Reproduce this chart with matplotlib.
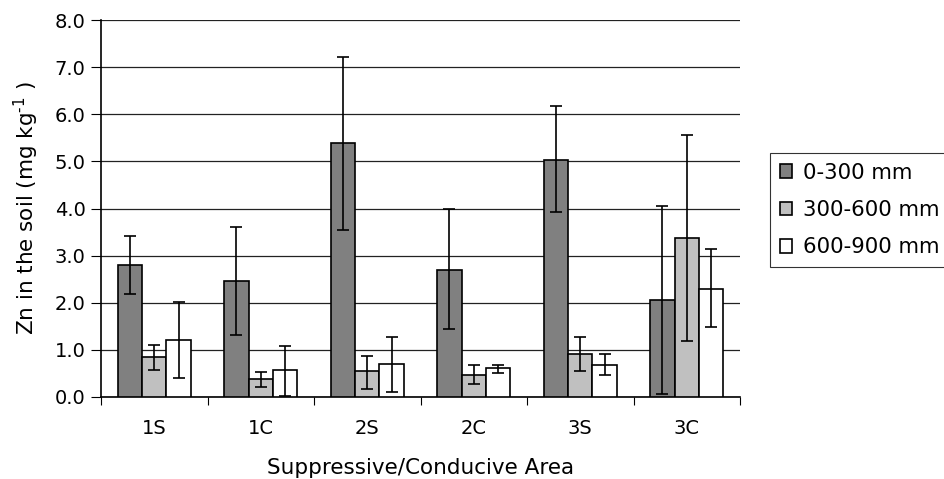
import numpy as np
import matplotlib
matplotlib.use('Agg')
import matplotlib.pyplot as plt

plt.rcParams['font.family'] = ['DejaVu Sans']

# Data
areas = ['1S', '1C', '2S', '2C', '3S', '3C']
depths = ['0-300 mm', '300-600 mm', '600-900 mm']
colors = ['#808080', '#c0c0c0', '#ffffff']

zn_0_300 = [2.80, 2.46, 5.40, 2.70, 5.03, 2.06]
zn_300_600 = [0.85, 0.38, 0.55, 0.47, 0.91, 3.38]
zn_600_900 = [1.22, 0.58, 0.71, 0.61, 0.67, 2.30]

# error bar ends (low, high)
low_0_300 = [2.19, 1.32, 3.55, 1.45, 3.92, 0.06]
high_0_300 = [3.41, 3.61, 7.22, 3.99, 6.17, 4.05]
low_300_600 = [0.58, 0.21, 0.18, 0.28, 0.55, 1.18]
high_300_600 = [1.11, 0.54, 0.87, 0.67, 1.28, 5.57]
low_600_900 = [0.40, 0.03, 0.11, 0.51, 0.47, 1.49]
high_600_900 = [2.02, 1.08, 1.27, 0.67, 0.91, 3.14]

values = [zn_0_300, zn_300_600, zn_600_900]
lows = [low_0_300, low_300_600, low_600_900]
highs = [high_0_300, high_300_600, high_600_900]

fig = plt.figure(figsize=(9.45, 4.79), dpi=100)
ax = fig.add_axes([101 / 945, 1 - 397 / 479, (740 - 101) / 945, (397 - 20) / 479])

x = np.arange(len(areas))
width = 0.228
for i in range(3):
    v = np.array(values[i])
    yerr = [v - np.array(lows[i]), np.array(highs[i]) - v]
    ax.bar(x + (i - 1) * width, v, width, color=colors[i], edgecolor='black',
           linewidth=1.2, label=depths[i], zorder=3)
    ax.errorbar(x + (i - 1) * width, v, yerr=yerr, fmt='none', ecolor='black',
                elinewidth=1.2, capsize=4.3, capthick=1.2, zorder=4)

ax.set_xlim(-0.5, len(areas) - 0.5)
ax.set_ylim(0, 8)
yt = np.arange(0, 8.1, 1.0)
ax.set_yticks(yt)
ax.set_yticklabels(['%.1f' % t for t in yt], fontsize=14)
ax.yaxis.grid(True, color='#222222', linewidth=0.9, zorder=0)
ax.set_axisbelow(True)

# category labels centered, ticks on the boundaries
ax.set_xticks(np.arange(-0.5, len(areas), 1.0))
ax.set_xticklabels([])
ax.set_xticks(x, minor=True)
ax.set_xticklabels(areas, minor=True, fontsize=14)
ax.tick_params(axis='x', which='minor', length=0, pad=16)
ax.tick_params(axis='x', which='major', length=6, direction='out')
ax.tick_params(axis='y', length=7, direction='out', pad=4)

for s in ['top', 'right']:
    ax.spines[s].set_visible(False)
ax.spines['left'].set_linewidth(1.2)
ax.spines['bottom'].set_linewidth(1.2)

ax.set_xlabel('Suppressive/Conducive Area', fontsize=15.5, labelpad=14)
ax.set_ylabel('Zn in the soil (mg kg$^{\u20101}$ )', fontsize=15.5, labelpad=10)

leg = fig.legend(loc='upper left', bbox_to_anchor=(770 / 945, 1 - 153 / 479),
                 fontsize=15.3, frameon=True, fancybox=False, edgecolor='black',
                 handlelength=0.6, handleheight=0.6, handletextpad=0.5,
                 labelspacing=0.82, borderpad=0.45, borderaxespad=0)
leg.get_frame().set_linewidth(0.8)

fig.savefig('out.png', dpi=100)
